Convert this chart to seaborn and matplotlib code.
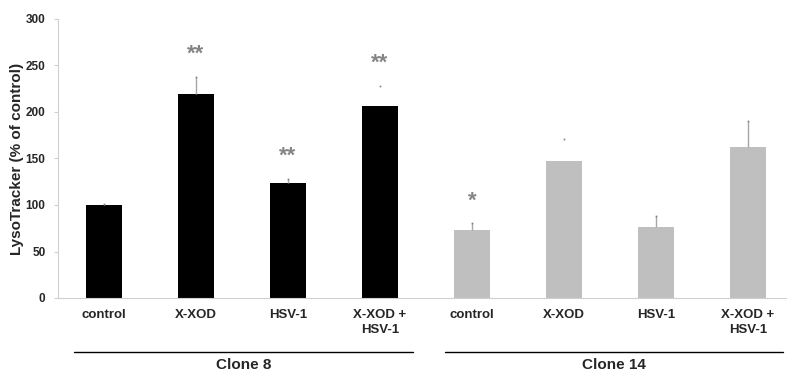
import matplotlib
matplotlib.use("Agg")
import matplotlib.pyplot as plt
import numpy as np
import pandas as pd
import seaborn as sns

# Treatment groups for each clone
clones = ["Clone 8", "Clone 14"]
treatments = ["control", "X-XOD", "HSV-1", "X-XOD +\nHSV-1"]

# LysoTracker signal (% of control) and upper error values
clone8_mean = [100, 219, 124, 206]
clone8_err_top = [101, 238, 128, 228]
clone14_mean = [73, 147, 76, 162]
clone14_err_top = [81, 171, 88, 190]

# Significance marks (text, height of the mark)
clone8_sig = ["", "**", "**", "**"]
clone8_sig_y = [0, 262, 152, 252]
clone14_sig = ["*", "", "", ""]
clone14_sig_y = [104, 0, 0, 0]

yticks = [0, 50, 100, 150, 200, 250, 300]

sns.set_style("white")
plt.rcParams["font.family"] = ["Liberation Sans", "DejaVu Sans"]
plt.rcParams["font.weight"] = "bold"

df = pd.DataFrame({
    "key": [f"{c}|{t}" for c in clones for t in treatments],
    "clone": [c for c in clones for _ in treatments],
    "treatment": treatments * len(clones),
    "value": clone8_mean + clone14_mean,
})
err_top = clone8_err_top + clone14_err_top
sig_text = clone8_sig + clone14_sig
sig_y = clone8_sig_y + clone14_sig_y

fig = plt.figure(figsize=(7.87, 3.73), dpi=100)
ax = fig.add_axes([58 / 787, 75 / 373, 736 / 787, 279 / 373])

sns.barplot(data=df, x="key", y="value", hue="clone",
            palette={"Clone 8": "#000000", "Clone 14": "#bfbfbf"},
            width=0.4, dodge=False, legend=False, ax=ax,
            linewidth=0, saturation=1)

# Error bars (upper half only); two of them show only their end point
xs = np.arange(len(df))
dot_only = {3, 5}
for i, (x, v, e) in enumerate(zip(xs, df["value"], err_top)):
    if i not in dot_only:
        ax.plot([x, x], [v, e], color="#a6a6a6", lw=1.0, zorder=3,
                solid_capstyle="butt")
    ax.plot([x], [e], marker="s", ms=1.2, color="#7f7f7f", zorder=4,
            markeredgewidth=0)

for x, s, y in zip(xs, sig_text, sig_y):
    if s:
        ax.text(x, y, s, ha="center", va="center", fontsize=16,
                color="#858585", fontweight="bold")

ax.set_xlim(-0.5, len(df) - 0.5)
ax.set_ylim(0, 300)
ax.set_yticks(yticks)
ax.set_yticklabels([str(t) for t in yticks], fontsize=8.5, fontweight="bold")
ax.set_xticks(xs)
ax.set_xticklabels(df["treatment"], fontsize=9.5, fontweight="bold",
                   linespacing=1.3)
ax.set_xticks(np.arange(0.5, len(df) - 1, 1.0), minor=True)
ax.tick_params(axis="x", which="major", length=0, pad=8)
ax.tick_params(axis="x", which="minor", length=5, color="#d0d0d0",
               width=0.8, direction="out")
ax.tick_params(axis="y", length=3, color="#d0d0d0", width=0.8,
               direction="out", pad=6, left=True)
ax.set_xlabel("")
ax.set_ylabel("LysoTracker (% of control)", fontsize=11, fontweight="bold")
ax.yaxis.set_label_coords(-0.0465, 0.5)

for side in ["top", "right"]:
    ax.spines[side].set_visible(False)
for side in ["left", "bottom"]:
    ax.spines[side].set_color("#d0d0d0")
    ax.spines[side].set_linewidth(0.8)

# Group brackets under the category labels
trans = ax.get_xaxis_transform()
for (x0, x1), name in zip([(-0.33, 3.36), (3.71, 7.38)], clones):
    ax.plot([x0, x1], [-0.193, -0.193], color="black", lw=1.0,
            transform=trans, clip_on=False)
    ax.text((x0 + x1) / 2, -0.24, name, ha="center", va="center",
            fontsize=11, fontweight="bold", transform=trans)

fig.savefig("out.png", dpi=100)
